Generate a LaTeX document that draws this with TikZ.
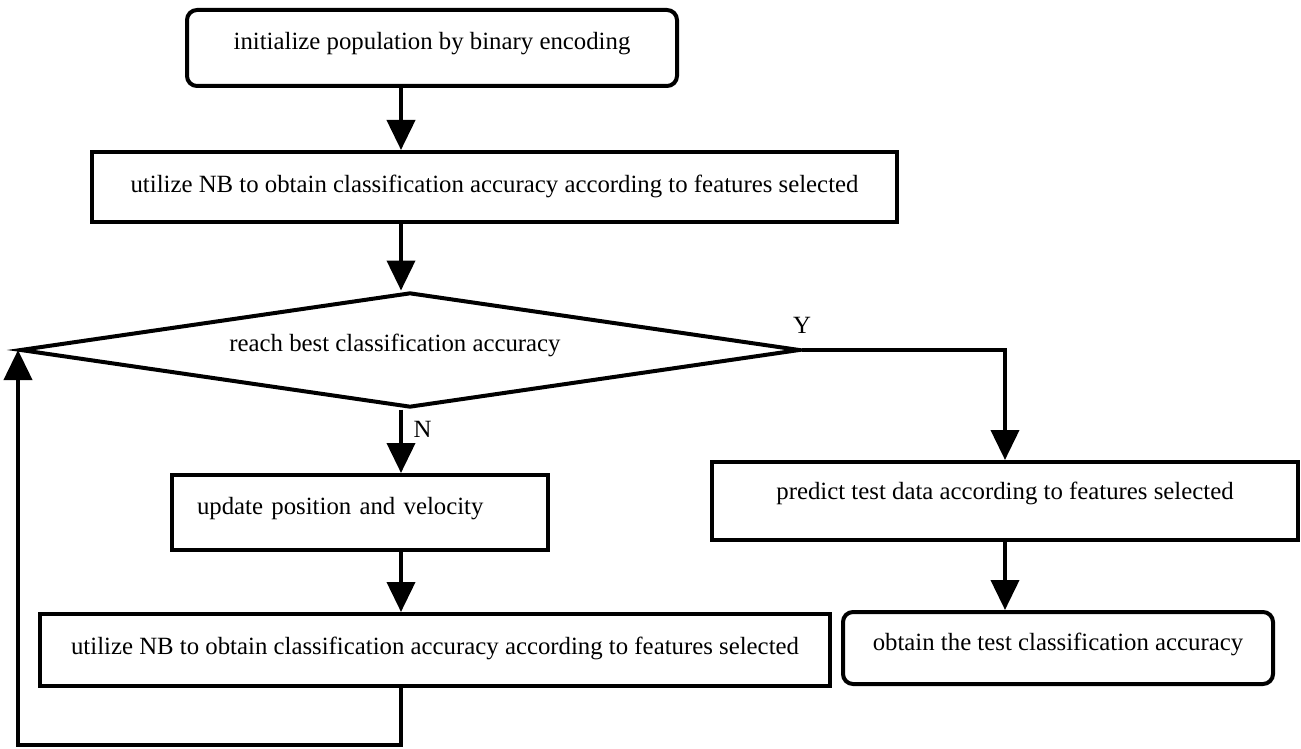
\documentclass[tikz,border=0pt]{standalone}
\usepackage{fontspec}
\setmainfont{Liberation Serif}
\usetikzlibrary{arrows.meta, shapes.geometric}
\tikzset{>={Triangle[width=14pt,length=15pt]}, every node/.style={font=\fontsize{12.4}{14}\selectfont, text height=8.5pt}, stepbox/.style={draw, rectangle, line width=2pt}, roundbox/.style={stepbox, rounded corners=5pt}, lift/.style={text depth=#1}}

\begin{document}
\begin{tikzpicture}[x=0.5pt, y=-0.5pt, line width=2pt]
	\useasboundingbox (0,0) rectangle (1301,749);
	\coordinate (spine) at (401,0);
	\coordinate (back) at (18,745);
	\node[roundbox, lift=7.4pt, minimum width=245pt, minimum height=38pt] at (432,48) (Init) {initialize population by binary encoding};
	\node[stepbox, lift=3.4pt, minimum width=402.5pt, minimum height=35pt] at (494.5,187) (Eval) {utilize NB to obtain classification accuracy according to features selected};
	\node[draw, line width=2pt, diamond, shape aspect=6.8, inner sep=0pt, lift=7.4pt, minimum width=390pt, minimum height=57.5pt] at (410,350) (Best) {reach best classification accuracy\hspace*{15pt}};
	\node[stepbox, lift=6.4pt, text width=163pt, align=left, inner xsep=12.5pt, minimum height=37.5pt] at (360,512.5) (Update) {update position and velocity};
	\node[stepbox, lift=4.4pt, minimum width=395pt, minimum height=36pt] at (435,650) (Eval2) {utilize NB to obtain classification accuracy according to features selected};
	\node[stepbox, lift=10.4pt, minimum width=293pt, minimum height=39pt] at (1005,501) (Predict) {predict test data according to features selected};
	\node[roundbox, lift=6.4pt, minimum width=215pt, minimum height=36pt] at (1058,648) (Result) {obtain the test classification accuracy};
	\draw[->] (Init.south -| spine) -- (Eval.north -| spine);
	\draw[->] (Eval.south -| spine) -- (Best.north -| spine);
	\draw[->] (Best.south -| spine) -- node[pos=0.3, right, xshift=2pt]{N} (Update.north -| spine);
	\draw[->] (Update.south -| spine) -- (Eval2.north -| spine);
	\draw[->] (Eval2.south -| spine) |- (back) -- (back |- Best.west);
	\draw[->] (Best.east) -| node[pos=0, above, yshift=4pt]{Y} (Predict.north);
	\draw[->] (Predict.south) -- (Result.north -| Predict.south);
\end{tikzpicture}
\end{document}
